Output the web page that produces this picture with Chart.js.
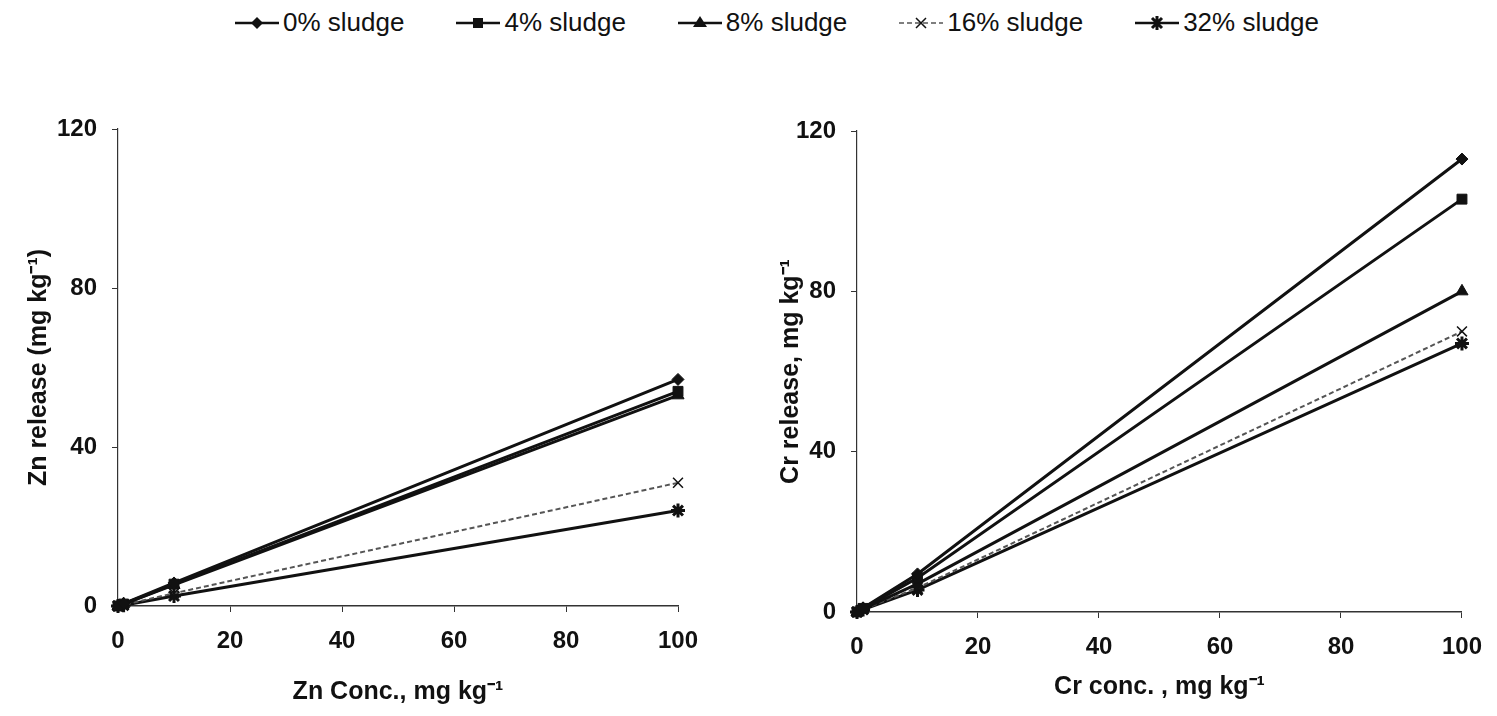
<!DOCTYPE html>
<html>
<head>
<meta charset="utf-8">
<script src="https://cdn.jsdelivr.net/npm/chart.js@4/dist/chart.umd.min.js"></script>
<style>
  body { margin: 0; background: #fff; }
  #wrap { position: relative; width: 1497px; height: 716px; overflow: hidden; }
  #leftChart { position: absolute; left: 0; top: 0; }
  #rightChart { position: absolute; left: 745px; top: 0; }
  #legend {
    position: absolute; left: 235px; top: 7px;
    display: flex; gap: 52px; align-items: center;
    font-family: "Liberation Sans", Arial, sans-serif; font-size: 26px; color: #111;
  }
  .item { display: flex; align-items: center; gap: 4px; }
  .item svg { display: block; }
</style>
</head>
<body>
<div id="wrap">
  <div id="legend"></div>
  <canvas id="leftChart" width="745" height="716"></canvas>
  <canvas id="rightChart" width="752" height="716"></canvas>
</div>
<script>
// metal added to soil, mg/kg
const concentrations = [0, 1, 10, 100];
const sludgeLabels = ["0% sludge", "4% sludge", "8% sludge", "16% sludge", "32% sludge"];

// Zn released for each sludge rate
const zn0 = [0, 0.6, 5.8, 57];
const zn4 = [0, 0.5, 5.5, 54];
const zn8 = [0, 0.5, 5.3, 53];
const zn16 = [0, 0.3, 3.2, 31];
const zn32 = [0, 0.2, 2.5, 24];

// Cr released for each sludge rate
const cr0 = [0, 1.0, 9.5, 113];
const cr4 = [0, 0.9, 8.5, 103];
const cr8 = [0, 0.8, 7.0, 80];
const cr16 = [0, 0.7, 6.0, 70];
const cr32 = [0, 0.6, 5.5, 67];

const xTicks = [0, 20, 40, 60, 80, 100];
const yTicks = [0, 40, 80, 120];

const FONT = "'Liberation Sans', Arial, sans-serif";
const INK = "#111";

const styles = [
  { pointStyle: "rectRot", radius: 6, width: 3, dash: [], color: INK },
  { pointStyle: "rect", radius: 7, width: 3, dash: [], color: INK },
  { pointStyle: "triangle", radius: 7, width: 3, dash: [], color: INK },
  { pointStyle: "crossRot", radius: 7, width: 2, dash: [5, 3], color: "#555" },
  { pointStyle: "star", radius: 7, width: 3, dash: [], color: INK }
];

function makeDatasets(series) {
  return series.map((vals, i) => {
    const s = styles[i];
    return {
      label: sludgeLabels[i],
      data: vals.map((v, j) => ({ x: concentrations[j], y: v })),
      borderColor: s.color,
      borderWidth: s.width,
      borderDash: s.dash,
      pointStyle: s.pointStyle,
      pointRadius: s.radius,
      pointBackgroundColor: INK,
      pointBorderColor: INK,
      pointBorderWidth: i === 3 ? 1.5 : (i === 4 ? 3 : 1),
      tension: 0,
      clip: false
    };
  });
}

function makeChart(id, series, yTitle, xTitle, lay) {
  const ctx = document.getElementById(id).getContext("2d");
  return new Chart(ctx, {
    type: "line",
    data: { datasets: makeDatasets(series) },
    options: {
      responsive: false,
      animation: false,
      layout: { padding: lay.padding },
      plugins: { legend: { display: false }, tooltip: { enabled: false } },
      scales: {
        x: {
          type: "linear",
          min: 0, max: 100,
          afterBuildTicks: (axis) => { axis.ticks = xTicks.map(v => ({ value: v })); },
          afterFit: (axis) => { axis.height = lay.xHeight; },
          ticks: { color: INK, padding: 15, font: { family: FONT, size: 24, weight: "bold" } },
          grid: { drawOnChartArea: false, drawTicks: true, tickLength: 6, color: "#333", lineWidth: 1 },
          border: { color: "#333", width: 1.5 },
          title: { display: true, text: xTitle, color: INK, font: { family: FONT, size: 25, weight: "bold" } }
        },
        y: {
          min: 0, max: 120,
          afterBuildTicks: (axis) => { axis.ticks = yTicks.map(v => ({ value: v })); },
          afterFit: (axis) => { axis.width = lay.yWidth; },
          ticks: { color: INK, padding: 15, font: { family: FONT, size: 24, weight: "bold" } },
          grid: { drawOnChartArea: false, drawTicks: true, tickLength: 6, color: "#333", lineWidth: 1 },
          border: { color: "#333", width: 1.2, dash: [6, 2] },
          title: { display: true, text: yTitle, color: INK, font: { family: FONT, size: 25, weight: "bold" } }
        }
      }
    }
  });
}

makeChart("leftChart", [zn0, zn4, zn8, zn16, zn32],
  "Zn release (mg kg\u207B\u00B9)", "Zn Conc., mg kg\u207B\u00B9",
  { padding: { left: 20, right: 67, top: 129, bottom: 5 }, yWidth: 98, xHeight: 105 });

makeChart("rightChart", [cr0, cr4, cr8, cr16, cr32],
  "Cr release, mg kg\u207B\u00B9", "Cr conc. , mg kg\u207B\u00B9",
  { padding: { left: 27, right: 35, top: 131, bottom: 10 }, yWidth: 85, xHeight: 94 });

// shared legend above both panels: line with marker, then label
function markerSvg(i) {
  const s = styles[i];
  const dash = s.dash.length ? ` stroke-dasharray="${s.dash.join(" ")}"` : "";
  const lw = i === 3 ? 1.5 : 2.5;
  let m = "";
  if (i === 0) m = '<polygon points="22,5 28,11 22,17 16,11" fill="#111"/>';
  if (i === 1) m = '<rect x="17" y="6" width="10" height="10" fill="#111"/>';
  if (i === 2) m = '<polygon points="22,4 29,15 15,15" fill="#111"/>';
  if (i === 3) m = '<path d="M17 6 L27 16 M27 6 L17 16" stroke="#111" stroke-width="1.5"/>';
  if (i === 4) m = '<path d="M17 6 L27 16 M27 6 L17 16 M22 4 L22 18" stroke="#111" stroke-width="3"/>';
  return `<svg width="44" height="22"><line x1="0" y1="11" x2="44" y2="11" stroke="${s.color}" stroke-width="${lw}"${dash}/>${m}</svg>`;
}

const legend = document.getElementById("legend");
sludgeLabels.forEach((label, i) => {
  const el = document.createElement("div");
  el.className = "item";
  el.innerHTML = markerSvg(i) + `<span>${label}</span>`;
  legend.appendChild(el);
});
</script>
</body>
</html>
